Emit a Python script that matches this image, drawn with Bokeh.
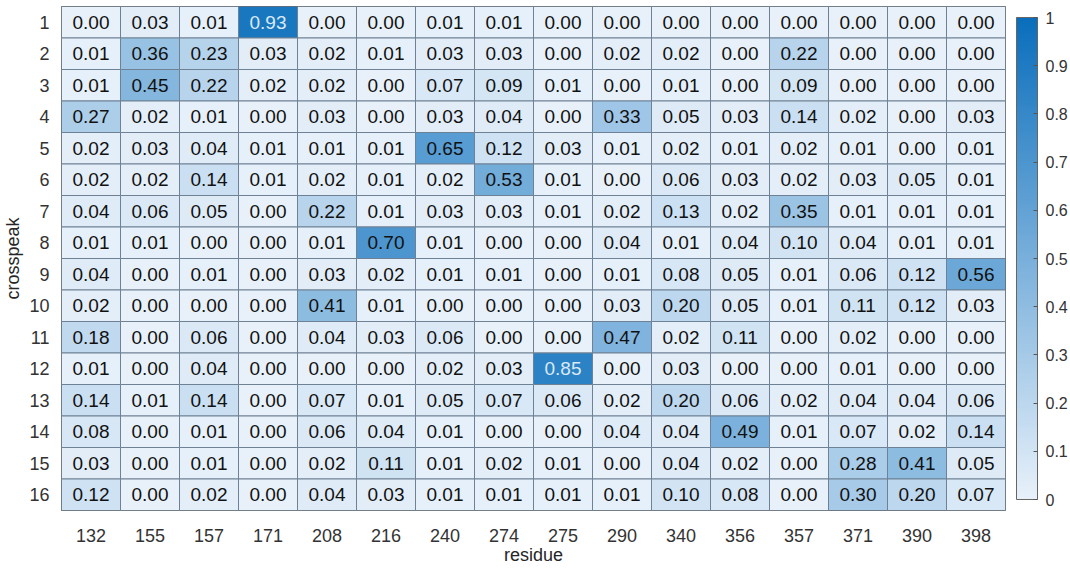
import numpy as np
from bokeh.plotting import figure
from bokeh.models import ColumnDataSource, LinearColorMapper, ColorBar, FixedTicker
from bokeh.core.properties import value
from bokeh.embed import file_html
from bokeh.resources import INLINE

residues = ["132", "155", "157", "171", "208", "216", "240", "274",
            "275", "290", "340", "356", "357", "371", "390", "398"]
crosspeaks = [str(i) for i in range(1, 17)]

row1 = [0.00, 0.03, 0.01, 0.93, 0.00, 0.00, 0.01, 0.01, 0.00, 0.00, 0.00, 0.00, 0.00, 0.00, 0.00, 0.00]
row2 = [0.01, 0.36, 0.23, 0.03, 0.02, 0.01, 0.03, 0.03, 0.00, 0.02, 0.02, 0.00, 0.22, 0.00, 0.00, 0.00]
row3 = [0.01, 0.45, 0.22, 0.02, 0.02, 0.00, 0.07, 0.09, 0.01, 0.00, 0.01, 0.00, 0.09, 0.00, 0.00, 0.00]
row4 = [0.27, 0.02, 0.01, 0.00, 0.03, 0.00, 0.03, 0.04, 0.00, 0.33, 0.05, 0.03, 0.14, 0.02, 0.00, 0.03]
row5 = [0.02, 0.03, 0.04, 0.01, 0.01, 0.01, 0.65, 0.12, 0.03, 0.01, 0.02, 0.01, 0.02, 0.01, 0.00, 0.01]
row6 = [0.02, 0.02, 0.14, 0.01, 0.02, 0.01, 0.02, 0.53, 0.01, 0.00, 0.06, 0.03, 0.02, 0.03, 0.05, 0.01]
row7 = [0.04, 0.06, 0.05, 0.00, 0.22, 0.01, 0.03, 0.03, 0.01, 0.02, 0.13, 0.02, 0.35, 0.01, 0.01, 0.01]
row8 = [0.01, 0.01, 0.00, 0.00, 0.01, 0.70, 0.01, 0.00, 0.00, 0.04, 0.01, 0.04, 0.10, 0.04, 0.01, 0.01]
row9 = [0.04, 0.00, 0.01, 0.00, 0.03, 0.02, 0.01, 0.01, 0.00, 0.01, 0.08, 0.05, 0.01, 0.06, 0.12, 0.56]
row10 = [0.02, 0.00, 0.00, 0.00, 0.41, 0.01, 0.00, 0.00, 0.00, 0.03, 0.20, 0.05, 0.01, 0.11, 0.12, 0.03]
row11 = [0.18, 0.00, 0.06, 0.00, 0.04, 0.03, 0.06, 0.00, 0.00, 0.47, 0.02, 0.11, 0.00, 0.02, 0.00, 0.00]
row12 = [0.01, 0.00, 0.04, 0.00, 0.00, 0.00, 0.02, 0.03, 0.85, 0.00, 0.03, 0.00, 0.00, 0.01, 0.00, 0.00]
row13 = [0.14, 0.01, 0.14, 0.00, 0.07, 0.01, 0.05, 0.07, 0.06, 0.02, 0.20, 0.06, 0.02, 0.04, 0.04, 0.06]
row14 = [0.08, 0.00, 0.01, 0.00, 0.06, 0.04, 0.01, 0.00, 0.00, 0.04, 0.04, 0.49, 0.01, 0.07, 0.02, 0.14]
row15 = [0.03, 0.00, 0.01, 0.00, 0.02, 0.11, 0.01, 0.02, 0.01, 0.00, 0.04, 0.02, 0.00, 0.28, 0.41, 0.05]
row16 = [0.12, 0.00, 0.02, 0.00, 0.04, 0.03, 0.01, 0.01, 0.01, 0.01, 0.10, 0.08, 0.00, 0.30, 0.20, 0.07]
rows = [row1, row2, row3, row4, row5, row6, row7, row8,
        row9, row10, row11, row12, row13, row14, row15, row16]

cbar_ticks = [0, 0.1, 0.2, 0.3, 0.4, 0.5, 0.6, 0.7, 0.8, 0.9, 1]
cbar_labels = ["0", "0.1", "0.2", "0.3", "0.4", "0.5", "0.6", "0.7", "0.8", "0.9", "1"]

# colormap: light blue-white to MATLAB-like blue
c0 = np.array([232, 241, 250])
c1 = np.array([10, 110, 188])
palette = []
for t in np.linspace(0, 1, 256):
    c = (c0 + (c1 - c0) * t).round().astype(int)
    palette.append("#%02x%02x%02x" % tuple(c))

xs, ys, vs, labels, tcolors = [], [], [], [], []
for cp, row in zip(crosspeaks, rows):
    for res, v in zip(residues, row):
        xs.append(res)
        ys.append(cp)
        vs.append(v)
        labels.append("%.2f" % v)
        tcolors.append("#dbe9f6" if v >= 0.8 else "#111111")

src = ColumnDataSource(dict(x=xs, y=ys, v=vs, label=labels, tc=tcolors))
mapper = LinearColorMapper(palette=palette, low=0, high=1)

FONT = "Liberation Sans"

p = figure(frame_width=944, frame_height=504,
           x_range=residues, y_range=list(reversed(crosspeaks)),
           output_backend="svg", toolbar_location=None,
           min_border_left=50, min_border_top=6, min_border_bottom=46, min_border_right=10)

p.rect(x="x", y="y", width=1, height=1, source=src,
       fill_color={"field": "v", "transform": mapper},
       line_color="#6f8194", line_width=1)
p.text(x="x", y="y", text="label", source=src, text_align="center",
       text_baseline="middle", text_font=value(FONT), text_font_size="19px",
       text_color="tc")

p.grid.visible = False
p.outline_line_color = "#555555"
for ax in (p.xaxis, p.yaxis):
    ax.axis_line_color = None
    ax.major_tick_line_color = None
    ax.minor_tick_line_color = None
    ax.major_label_text_font = FONT
    ax.major_label_text_font_size = "18px"
    ax.major_label_text_color = "#333333"
    ax.axis_label_text_font = FONT
    ax.axis_label_text_font_size = "18px"
    ax.axis_label_text_font_style = "normal"
    ax.axis_label_text_color = "#262626"

p.xaxis.axis_label = "residue"
p.yaxis.axis_label = "crosspeak"
p.xaxis.major_label_standoff = 12
p.xaxis.axis_label_standoff = 0
p.yaxis.major_label_standoff = 6
p.yaxis.axis_label_standoff = 3

cb = ColorBar(color_mapper=mapper, width=21, margin=0, padding=11,
              ticker=FixedTicker(ticks=cbar_ticks),
              major_label_overrides={t: l for t, l in zip(cbar_ticks, cbar_labels)},
              major_label_text_font=FONT, major_label_text_font_size="16px",
              major_label_text_color="#333333",
              major_tick_line_color="#555555", major_tick_in=4, major_tick_out=0,
              minor_tick_line_color=None,
              bar_line_color="#666666", border_line_color=None,
              background_fill_alpha=0, label_standoff=8)
p.add_layout(cb, "right")

open("out.html", "w").write(file_html(p, INLINE))
